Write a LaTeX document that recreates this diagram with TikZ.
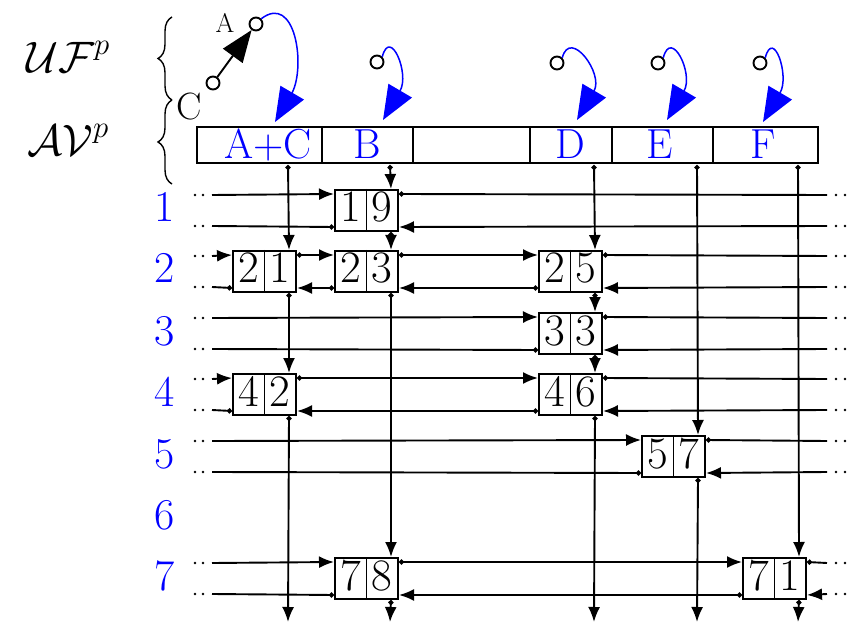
\RequirePackage{fix-cm}
\documentclass[tikz,border=0pt]{standalone}
\usetikzlibrary{arrows.meta,decorations.pathreplacing,calc}

\newcommand\bigfont[1]{\fontsize{#1}{#1}\selectfont}

\tikzset{
  x=1pt, y=-1pt,
  link/.style={line width=1.9pt},
  ptr/.style={link, {Circle[length=5pt]}-{Latex[length=15pt,width=12pt]}},
  ptrin/.style={link, -{Latex[length=15pt,width=12pt]}},
  ptrout/.style={link, {Circle[length=5pt]}-},
  cellbox/.style={draw, line width=2pt, minimum width=63pt, minimum height=41pt, inner sep=0pt},
  divider/.style={line width=0.8pt},
  digit/.style={anchor=base, inner sep=0pt, font=\bigfont{45}},
  rowlabel/.style={anchor=base, inner sep=0pt, text=blue, font=\bigfont{44}},
  barcell/.style={draw, line width=2pt, minimum height=36pt, inner sep=0pt},
  hlabel/.style={anchor=base, inner sep=0pt, text=blue, font=\bigfont{42}},
  ring/.style={draw, circle, line width=1.9pt, minimum size=13pt, inner sep=0pt},
  uarrow/.style={blue, line width=1.5pt, -{Triangle[length=34pt,width=27pt]}},
  brace/.style={decorate, decoration={brace, amplitude=14pt}, line width=1.4pt},
}

% one element of the list: name, column x, upper line y, row digit, column digit
\newcommand\mcell[5]{%
  \node[cellbox] (#1) at ({#2-23.5},{#3+15.5}) {};
  \draw[divider] (#1.north) -- (#1.south);
  \node[digit] (#1l) at ({#2-39.25},{#3+27}) {#4};
  \node[digit] (#1r) at ({#2-7.75},{#3+27}) {#5};
}
% links between elements
\newcommand\fwd[2]{\draw[ptr] ([yshift=-5pt]#1.north east) -- ([yshift=-5pt]#2.north west);}
\newcommand\bwd[2]{\draw[ptr] ([yshift=5pt]#1.south west) -- ([yshift=5pt]#2.south east);}
\newcommand\dwn[2]{\draw[ptr] ([xshift=-8pt]#1.south east) -- ([xshift=-8pt]#2.north east);}
% row number, first element, last element
\newcommand\rowends[3]{%
  \draw[ptrin] (L#1a) -- ([yshift=-5pt]#2.north west);
  \draw[ptrout] ([yshift=5pt]#2.south west) -- (L#1b);
  \draw[ptrout] ([yshift=-5pt]#3.north east) -- (R#1a);
  \draw[ptrin] (R#1b) -- ([yshift=5pt]#3.south east);
}
% column name, first element, last element
\newcommand\colends[3]{%
  \draw[ptr] (T#1) -- ([xshift=-8pt]#2.north east);
  \draw[ptr] ([xshift=-8pt]#3.south east) -- (D#1);
}

\begin{document}
\begin{tikzpicture}
\useasboundingbox (0,0) rectangle (859,628);

% left-hand labels and braces
\node[anchor=base, inner sep=0pt, font=\bigfont{44}] (uf) at (68,73) {$\mathcal{UF}^p$};
\node[anchor=base, inner sep=0pt, font=\bigfont{44}] (av) at (68,156) {$\mathcal{AV}^p$};
\draw[brace] (172,100) -- (172,17);
\draw[brace] (172,184) -- (172,100);

% header array
\node[barcell, minimum width=125pt] (hAC) at (259.5,145) {};
\node[barcell, minimum width=91pt]  (hB)  at (367.5,145) {};
\node[barcell, minimum width=117pt] (hX)  at (471.5,145) {};
\node[barcell, minimum width=82pt]  (hD)  at (571,145) {};
\node[barcell, minimum width=101pt] (hE)  at (662.5,145) {};
\node[barcell, minimum width=105pt] (hF)  at (765.5,145) {};
\node[hlabel] (lAC) at (268,159) {A+C};
\node[hlabel] (lB)  at (367,159) {B};
\node[hlabel] (lD)  at (570,159) {D};
\node[hlabel] (lE)  at (660,159) {E};
\node[hlabel] (lF)  at (763,159) {F};

% pointers above the array
\node[ring] (cA) at (256,24) {};
\node[ring] (cC) at (213,83) {};
\node[ring] (cB) at (377,62) {};
\node[ring] (cD) at (557,63) {};
\node[ring] (cE) at (658,63) {};
\node[ring] (cF) at (760,63) {};
\node[anchor=base, inner sep=0pt, font=\bigfont{27}] (tA) at (225,33) {A};
\node[anchor=base, inner sep=0pt, font=\bigfont{38}] (tC) at (189,120) {C};
\draw[link, -{Triangle[length=32pt,width=24pt]}] (cC) -- (cA);

% arrow tips (a..) and the points where the curves meet them (b..)
\foreach \c/\x/\y in {AC/275/122,B/383/120,D/577/120,E/667/120,F/763/122} {
  \coordinate (a\c) at (\x,\y);
  \coordinate (b\c) at ({\x+17},{\y-29});
}
\draw[uarrow] (cA.north east) .. controls +(34,-26) and +(14,-27) .. (bAC) -- (aAC);
\foreach \c in {B,D,E,F}
  \draw[uarrow] (c\c.north east) .. controls +(8,-30) and +(10,-17) .. (b\c) -- (a\c);

% rows: line ends, dots and numbers
\foreach \n/\y in {1/195,2/256,3/318,4/379,5/441,7/563} {
  \coordinate (L\n a) at (212,\y);
  \coordinate (L\n b) at (212,{\y+31});
  \coordinate (R\n a) at (827,\y);
  \coordinate (R\n b) at (827,{\y+31});
  \foreach \yy in {\y,{\y+31}} {
    \fill (195,\yy) circle (1.3pt) (203,\yy) circle (1.3pt);
    \fill (836,\yy) circle (1.3pt) (845,\yy) circle (1.3pt);
  }
}
\foreach \n/\y in {1/195,2/256,3/318,4/379,5/441,6/502,7/563}
  \node[rowlabel] (row\n) at (165,{\y+27}) {\n};

% columns: line ends
\foreach \c/\x in {AC/288,B/390,D/594,E/697,F/798} {
  \coordinate (T\c) at (\x,165);
  \coordinate (D\c) at (\x,622);
}

% elements
\mcell{e19}{390}{195}{1}{9}
\mcell{e21}{288}{256}{2}{1}
\mcell{e23}{390}{256}{2}{3}
\mcell{e25}{594}{256}{2}{5}
\mcell{e33}{594}{318}{3}{3}
\mcell{e42}{288}{379}{4}{2}
\mcell{e46}{594}{379}{4}{6}
\mcell{e57}{697}{441}{5}{7}
\mcell{e78}{390}{563}{7}{8}
\mcell{e71}{798}{563}{7}{1}

% row links
\rowends{1}{e19}{e19}
\rowends{2}{e21}{e25}
\fwd{e21}{e23} \fwd{e23}{e25}
\bwd{e25}{e23} \bwd{e23}{e21}
\rowends{3}{e33}{e33}
\rowends{4}{e42}{e46}
\fwd{e42}{e46} \bwd{e46}{e42}
\rowends{5}{e57}{e57}
\rowends{7}{e78}{e71}
\fwd{e78}{e71} \bwd{e71}{e78}

% column links
\colends{AC}{e21}{e42}
\dwn{e21}{e42}
\colends{B}{e19}{e78}
\dwn{e19}{e23} \dwn{e23}{e78}
\colends{D}{e25}{e46}
\dwn{e25}{e33} \dwn{e33}{e46}
\colends{E}{e57}{e57}
\colends{F}{e71}{e71}
\end{tikzpicture}
\end{document}
